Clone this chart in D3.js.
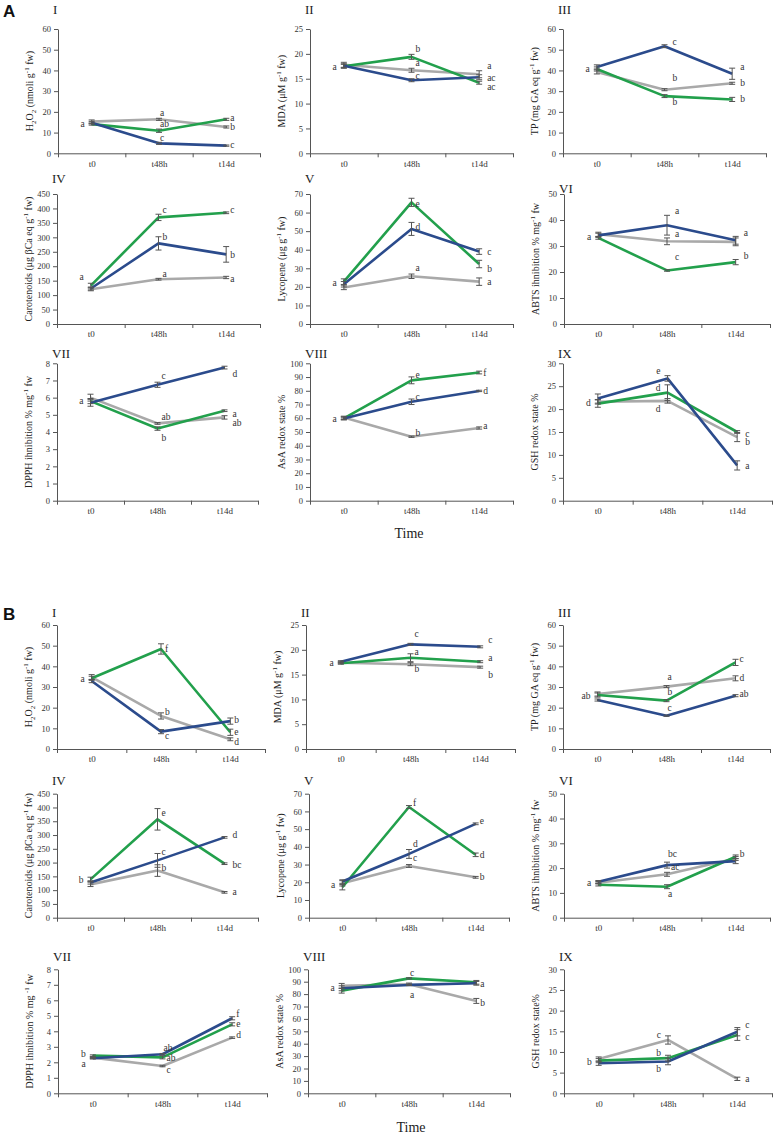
<!DOCTYPE html>
<html><head><meta charset="utf-8">
<script src="https://cdn.jsdelivr.net/npm/d3@7"></script>
<style>body{margin:0;background:#fff}svg{display:block}</style>
</head><body><svg id="chart" width="777" height="1136"></svg>
<script>
// ---------------- DATA ----------------
const times = ["t0", "t48h", "t14d"];
const seriesNames = ["grey", "green", "blue"];

// y-axis titles: segments [text, kind]
const lblH2O2 = [["H",""],["2","sub"],["O",""],["2","sub"],[" (nmoli g",""],["-1","sup"],[" fw)",""]];
const lblH2O2b = [["H",""],["2","sub"],["O",""],["2","sub"],[" (nmoli g",""],["-1","sup"],["  fw)",""]];
const lblMDA = [["MDA (\u03bcM g",""],["-1","sup"],[" fw)",""]];
const lblTP = [["TP (mg GA eq g",""],["-1","sup"],[" fw)",""]];
const lblCar = [["Carotenoids (\u03bcg  \u03b2Ca eq g",""],["-1","sup"],[" fw)",""]];
const lblLyc = [["Lycopene (\u03bcg g",""],["-1","sup"],[" fw)",""]];
const lblABTS = [["ABTS ihnibition %  mg",""],["-1","sup"],[" fw",""]];
const lblDPPH = [["DPPH ihnibition %  mg",""],["-1","sup"],[" fw",""]];
const lblDPPHb = [["DPPH ihnibition % mg ",""],["-1","sup"],[" fw",""]];
const lblAsA = [["AsA redox state %",""]];
const lblGSH = [["GSH redox state %",""]];
const lblGSHb = [["GSH redox state%",""]];

// means: rows = grey, green, blue ; columns = t0, t48h, t14d
const A1_mean = [[15.3,16.4,12.7],[14.1,10.9,16.4],[14.8,4.8,3.7]];
const A1_err  = [[0.8,0.5,0.5],[0.5,0.8,0.5],[0.6,0.5,0.3]];
const A2_mean = [[17.8,16.7,15.9],[17.5,19.4,14.2],[17.6,14.7,15.3]];
const A2_err  = [[0.5,0.4,0.7],[0.4,0.5,0.3],[0.4,0.3,0.5]];
const A3_mean = [[39.3,30.7,33.8],[40.7,27.6,26.0],[41.7,51.7,38.4]];
const A3_err  = [[1,0.5,0.5],[1,0.7,1],[1,0.7,2.7]];
const A4_mean = [[120,155,161],[133,369,385],[123,279,241]];
const A4_err  = [[5,3,4],[8,11,3],[5,23,27]];
const A5_mean = [[19.7,25.7,22.8],[22.8,65.5,32.3],[21.4,51.2,39.0]];
const A5_err  = [[1.2,1.2,2],[1.5,2.2,2],[1.5,3.5,1.5]];
const A6_mean = [[34.5,31.8,31.6],[33.1,20.6,23.8],[34.1,38.0,32.2]];
const A6_err  = [[0.8,1.3,1.5],[0.5,0.3,1],[0.8,3.8,1.5]];
const A7_mean = [[6.0,4.5,4.85],[5.8,4.2,5.24],[5.7,6.75,7.75]];
const A7_err  = [[0.2,0.05,0.1],[0.15,0.1,0.05],[0.2,0.15,0.08]];
const A8_mean = [[60.5,46.6,52.9],[60,87.6,93.3],[59.8,72,79.9]];
const A8_err  = [[1,0.5,0.8],[1,2.5,1],[1,2,0.5]];
const A9_mean = [[21.6,21.8,13.9],[21.2,23.6,15.0],[22.3,26.7,7.7]];
const A9_err  = [[0.5,0.5,1],[0.8,1.7,0.3],[1,0.6,1]];

const B1_mean = [[34.8,16.0,4.7],[34.2,48.4,8.1],[32.9,8.4,13.5]];
const B1_err  = [[1.2,1.5,0.7],[1,2.5,1.5],[0.8,1,1.5]];
const B2_mean = [[17.4,17.1,16.5],[17.3,18.4,17.6],[17.6,21.1,20.6]];
const B2_err  = [[0.2,0.3,0.2],[0.2,0.8,0.2],[0.2,0.2,0.2]];
const B3_mean = [[26.6,30.2,34.2],[26.1,23.4,41.9],[23.7,16.1,25.8]];
const B3_err  = [[1,0.5,1.2],[1,0.5,1.5],[0.5,0.3,0.5]];
const B4_mean = [[121,171,92],[139,357,196],[128,208,291.5]];
const B4_err  = [[8,21,3],[8,39,3],[6,25,3]];
const B5_mean = [[19.4,29.2,22.8],[17.2,62.5,35.5],[20.4,36.0,53.0]];
const B5_err  = [[1.5,0.8,0.5],[1.5,0.8,1],[1,2.5,0.5]];
const B6_mean = [[14.1,17.5,23.9],[13.3,12.5,24.6],[14.5,21.2,22.8]];
const B6_err  = [[0.5,0.8,0.8],[0.5,0.8,0.7],[0.5,1.2,1]];
const B7_mean = [[2.3,1.76,3.59],[2.43,2.32,4.45],[2.26,2.52,4.84]];
const B7_err  = [[0.05,0.05,0.05],[0.05,0.1,0.1],[0.05,0.05,0.1]];
const B8_mean = [[86.6,87.9,74.5],[82.8,92.7,89.5],[84.7,87.4,88.7]];
const B8_err  = [[2,1,2],[2,0.5,1.5],[2,0.5,1.5]];
const B9_mean = [[8.3,12.9,3.5],[7.9,8.5,14.1],[7.26,7.7,14.9]];
const B9_err  = [[0.5,1,0.4],[0.5,0.7,1.3],[0.5,0.8,1]];

// significance letters: [time index, value anchor, letter, side]
const A1_let = [[0,14.1,"a","l"],[1,19.4,"a","m"],[1,14.1,"ab","m"],[1,7.4,"c","m"],[2,17.0,"a","r"],[2,12.7,"b","r"],[2,4.0,"c","r"]];
const A2_let = [[0,17.4,"a","l"],[1,21.0,"b","r"],[1,18.2,"a","r"],[1,15.7,"c","r"],[2,17.6,"a","R"],[2,15.3,"ac","R"],[2,13.5,"ac","R"]];
const A3_let = [[0,40.8,"a","l"],[1,53.9,"c","R"],[1,36.4,"b","R"],[1,25.1,"b","R"],[2,41.6,"a","R"],[2,34.1,"b","R"],[2,26.5,"b","R"]];
const A4_let = [[0,163,"a","l"],[1,395,"c","r"],[1,302,"b","r"],[1,175,"a","r"],[2,395,"c","r"],[2,241,"b","r"],[2,157,"a","r"]];
const A5_let = [[0,22.4,"a","l"],[1,64.6,"e","r"],[1,52.2,"d","r"],[1,30.2,"a","r"],[2,38.8,"c","R"],[2,29.6,"b","R"],[2,22.6,"a","R"]];
const A6_let = [[0,33.6,"a","l"],[1,43.5,"a","R"],[1,34.6,"a","R"],[1,25.8,"c","R"],[2,35,"a","R"],[2,26.2,"b","R"]];
const A7_let = [[0,5.84,"a","l"],[1,7.26,"c","r"],[1,4.87,"ab","r"],[1,3.65,"b","r"],[2,7.38,"d","R"],[2,5.05,"a","R"],[2,4.52,"ab","R"]];
const A8_let = [[0,60,"a","l"],[1,91.8,"e","r"],[1,75.4,"c","r"],[1,49.4,"b","r"],[2,93.3,"f","r"],[2,79.9,"d","r"],[2,54.6,"a","r"]];
const A9_let = [[0,21.4,"d","l"],[1,28.4,"e","l"],[1,24.6,"d","l"],[1,20.0,"d","l"],[2,14.6,"c","R"],[2,12.8,"b","R"],[2,7.75,"a","R"]];
const B1_let = [[0,33.9,"a","l"],[1,48.4,"f","r"],[1,17.9,"b","r"],[1,6.3,"c","r"],[2,14.0,"b","r"],[2,8.2,"e","r"],[2,3.4,"d","r"]];
const B2_let = [[0,17.5,"a","l"],[1,23.2,"c","r"],[1,19.6,"a","r"],[1,16.1,"b","r"],[2,22.0,"c","R"],[2,18.5,"a","R"],[2,14.9,"b","R"]];
const B3_let = [[0,25.6,"ab","l"],[1,34.8,"a","m"],[1,27.6,"b","m"],[1,19.8,"c","m"],[2,43.5,"c","r"],[2,34.4,"d","r"],[2,26.6,"ab","r"]];
const B4_let = [[0,137,"b","l"],[1,380,"e","r"],[1,239,"c","r"],[1,181,"b","r"],[2,300,"d","R"],[2,191,"bc","R"],[2,93,"a","R"]];
const B5_let = [[0,18.9,"a","l"],[1,64.8,"f","r"],[1,41.6,"d","r"],[1,33.7,"c","r"],[2,54.6,"e","r"],[2,35.4,"d","r"],[2,23.0,"b","r"]];
const B6_let = [[0,14.0,"a","l"],[1,25.7,"bc","m"],[1,20.4,"ac","r"],[1,9.6,"a","m"],[2,25.7,"b","r"]];
const B7_let = [[0,2.53,"b","l"],[0,1.90,"a","l"],[1,2.92,"ab","m"],[1,2.28,"ab","r"],[1,1.5,"c","r"],[2,5.12,"f","r"],[2,4.47,"e","r"],[2,3.76,"d","r"]];
const B8_let = [[0,85.2,"a","l"],[1,97.0,"c","m"],[1,79.3,"a","m"],[2,88.1,"a","r"],[2,72.8,"b","r"]];
const B9_let = [[0,7.58,"b","l"],[1,14.1,"c","l"],[1,9.75,"b","l"],[1,5.9,"b","l"],[2,16.5,"c","R"],[2,13.6,"c","R"],[2,3.5,"a","R"]];

const numerals = ["I","II","III","IV","V","VI","VII","VIII","IX"];
const yMaxes = [60,25,60,450,70,50,8,100,30];
const ySteps = [10,5,10,50,10,10,1,10,5];

// ---------------- LAYOUT / STYLE ----------------
const colors = {grey:"#a9a9a9", green:"#22a04c", blue:"#2b4b8c"};
const serif = "'Liberation Serif','Times New Roman',serif";
const rows = [
  {top:29,    bottom:153.3,  numY:[14,14,14],    cols:[[58,260],[310,513],[563,766]]},
  {top:194,   bottom:324,    numY:[183,183,193], cols:[[57,260],[310,513],[564,770]]},
  {top:363.3, bottom:500.7,  numY:[358,358,358], cols:[[57,258],[310,513],[563,772]]},
  {top:625,   bottom:749,    numY:[617,617,617], cols:[[57,265],[306,515],[563,770]]},
  {top:793.7, bottom:917.7,  numY:[785,785,785], cols:[[57,258],[309,509],[564,770]]},
  {top:969.3, bottom:1093.3, numY:[961,961,961], cols:[[58,267],[308,510],[564,772]]}
];
const sideDx = {l:-7, r:4, R:8, m:1};

const panels = [
  {row:0,col:0,k:0,label:lblH2O2,mean:A1_mean,err:A1_err,let:A1_let},
  {row:0,col:1,k:1,label:lblMDA,mean:A2_mean,err:A2_err,let:A2_let},
  {row:0,col:2,k:2,label:lblTP,mean:A3_mean,err:A3_err,let:A3_let},
  {row:1,col:0,k:3,label:lblCar,mean:A4_mean,err:A4_err,let:A4_let},
  {row:1,col:1,k:4,label:lblLyc,mean:A5_mean,err:A5_err,let:A5_let},
  {row:1,col:2,k:5,label:lblABTS,mean:A6_mean,err:A6_err,let:A6_let},
  {row:2,col:0,k:6,label:lblDPPH,mean:A7_mean,err:A7_err,let:A7_let},
  {row:2,col:1,k:7,label:lblAsA,mean:A8_mean,err:A8_err,let:A8_let},
  {row:2,col:2,k:8,label:lblGSH,mean:A9_mean,err:A9_err,let:A9_let},
  {row:3,col:0,k:0,label:lblH2O2b,mean:B1_mean,err:B1_err,let:B1_let},
  {row:3,col:1,k:1,label:lblMDA,mean:B2_mean,err:B2_err,let:B2_let},
  {row:3,col:2,k:2,label:lblTP,mean:B3_mean,err:B3_err,let:B3_let},
  {row:4,col:0,k:3,label:lblCar,mean:B4_mean,err:B4_err,let:B4_let},
  {row:4,col:1,k:4,label:lblLyc,mean:B5_mean,err:B5_err,let:B5_let},
  {row:4,col:2,k:5,label:lblABTS,mean:B6_mean,err:B6_err,let:B6_let},
  {row:5,col:0,k:6,label:lblDPPHb,mean:B7_mean,err:B7_err,let:B7_let},
  {row:5,col:1,k:7,label:lblAsA,mean:B8_mean,err:B8_err,let:B8_let},
  {row:5,col:2,k:8,label:lblGSHb,mean:B9_mean,err:B9_err,let:B9_let}
];

const svg = d3.select("#chart");
svg.append("rect").attr("width",777).attr("height",1136).attr("fill","#fff");

function addRich(textSel, segs, size){
  let pending = 0;
  segs.forEach(([t,kind])=>{
    const ts = textSel.append("tspan").text(t);
    let shift = 0;
    if(kind==="sub") shift = size*0.25;
    else if(kind==="sup") shift = -size*0.38;
    const dy = pending + shift;
    if(dy !== 0) ts.attr("dy", dy);
    if(kind) ts.attr("font-size", size*0.7);
    pending = -shift;
  });
}

panels.forEach(p=>{
  const r = rows[p.row];
  const [x0,x1] = r.cols[p.col];
  const yMax = yMaxes[p.k], yStep = ySteps[p.k];
  const g = svg.append("g");
  const y = d3.scaleLinear().domain([0,yMax]).range([r.bottom, r.top]);
  const xp = d3.scalePoint().domain(times).range([x0,x1]).padding(0.5);
  const xb = d3.scaleLinear().domain([0,times.length]).range([x0,x1]);

  // y axis
  const ya = g.append("g").attr("transform",`translate(${x0},0)`)
    .call(d3.axisLeft(y).tickValues(d3.range(0,yMax+yStep/2,yStep)).tickSize(4).tickSizeOuter(0).tickPadding(3));
  ya.attr("font-family",serif).attr("font-size",8.5);
  ya.selectAll("text").attr("font-family",serif).attr("font-size",8.5).attr("fill","#333");
  ya.selectAll("line,path").attr("stroke","#555");

  // x axis: boundary ticks
  const xa = g.append("g").attr("transform",`translate(0,${r.bottom})`)
    .call(d3.axisBottom(xb).tickValues(d3.range(0,times.length+1)).tickSize(4).tickSizeOuter(0).tickFormat(""));
  xa.selectAll("line,path").attr("stroke","#555");
  xa.selectAll("text").remove();
  const xl = g.append("g").attr("transform",`translate(0,${r.bottom})`)
    .call(d3.axisBottom(xp).tickSize(0).tickPadding(7));
  xl.attr("font-family",serif).attr("font-size",9);
  xl.select(".domain").remove();
  xl.selectAll("text").attr("font-family",serif).attr("font-size",9).attr("fill","#333");

  // numeral
  g.append("text").attr("x",x0-5).attr("y",r.numY[p.col]).attr("font-family",serif)
    .attr("font-size",13).attr("fill","#222").text(numerals[p.k]);

  // y title
  const yt = g.append("text").attr("transform",`translate(${x0-25},${(r.top+r.bottom)/2}) rotate(-90)`)
    .attr("text-anchor","middle").attr("font-family",serif).attr("font-size",10).attr("fill","#222");
  addRich(yt, p.label, 10);

  // lines
  const line = d3.line().x((d,i)=>xp(times[i])).y(d=>y(d));
  seriesNames.forEach((s,si)=>{
    g.append("path").datum(p.mean[si]).attr("d",line).attr("fill","none")
      .attr("stroke",colors[s]).attr("stroke-width",2.6).attr("stroke-linejoin","round");
  });
  // error bars
  seriesNames.forEach((s,si)=>{
    p.mean[si].forEach((m,ti)=>{
      const e = p.err[si][ti];
      const cx = xp(times[ti]);
      const ylo = y(m-e), yhi = y(m+e);
      const eg = g.append("g").attr("stroke","#555").attr("stroke-width",1);
      eg.append("line").attr("x1",cx).attr("x2",cx).attr("y1",ylo).attr("y2",yhi);
      eg.append("line").attr("x1",cx-3).attr("x2",cx+3).attr("y1",ylo).attr("y2",ylo);
      eg.append("line").attr("x1",cx-3).attr("x2",cx+3).attr("y1",yhi).attr("y2",yhi);
    });
  });
  // letters
  p.let.forEach(([ti,v,t,side])=>{
    g.append("text").attr("x",xp(times[ti])+sideDx[side]).attr("y",y(v)).attr("dy","0.35em")
      .attr("text-anchor",side==="l"?"end":"start").attr("font-family",serif).attr("font-size",9.5)
      .attr("fill","#333").text(t);
  });
});

// Panel letters and Time labels
svg.append("text").attr("x",3).attr("y",17).attr("font-family","'Liberation Sans',Arial,sans-serif")
  .attr("font-weight","bold").attr("font-size",17).attr("fill","#111").text("A");
svg.append("text").attr("x",3).attr("y",620).attr("font-family","'Liberation Sans',Arial,sans-serif")
  .attr("font-weight","bold").attr("font-size",17).attr("fill","#111").text("B");
svg.append("text").attr("x",409).attr("y",538).attr("text-anchor","middle").attr("font-family",serif)
  .attr("font-size",14).attr("fill","#222").text("Time");
svg.append("text").attr("x",411).attr("y",1132).attr("text-anchor","middle").attr("font-family",serif)
  .attr("font-size",14).attr("fill","#222").text("Time");
</script></body></html>
